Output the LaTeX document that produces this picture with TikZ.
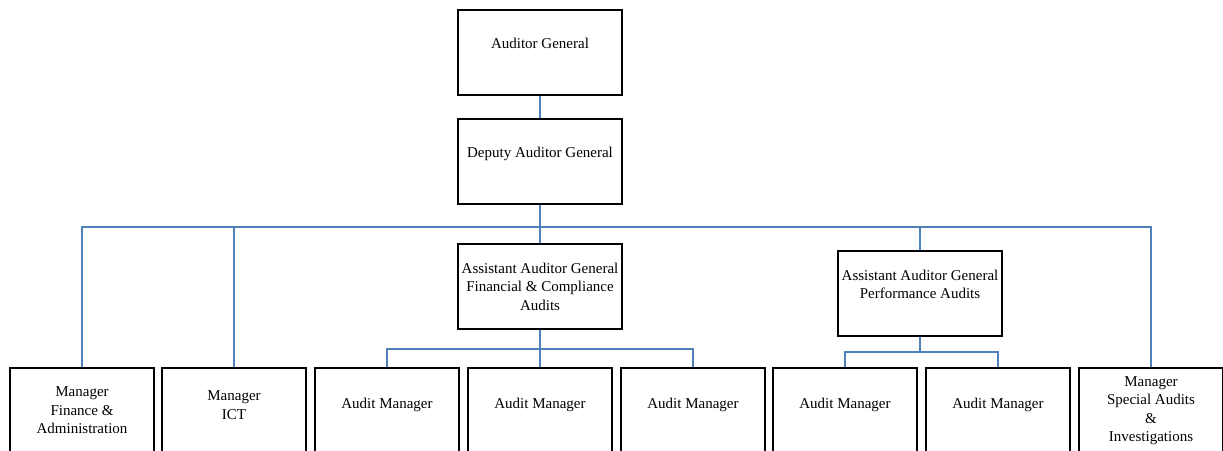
\documentclass[tikz,border=0pt]{standalone}
\usepackage{fontspec}
\setmainfont{Liberation Serif}
\usepackage{tikz}
\usetikzlibrary{positioning, calc}
\usepackage{xcolor}
\definecolor{OrgBlue}{HTML}{4F81BD}
\definecolor{OrgBlack}{HTML}{000000}
\definecolor{OrgWhite}{HTML}{ffffff}
\tikzset{
    % Node styles - plain boxes
    topbox/.style={
        rectangle,
        draw=OrgBlack,
        fill=OrgWhite,
        line width=1.6pt,
        minimum width=164pt,
        minimum height=85pt,
        align=center,
        font=\fontsize{15}{18.5}\selectfont
    },
    unitbox/.style={
        rectangle,
        draw=OrgBlack,
        fill=OrgWhite,
        line width=1.6pt,
        minimum width=144pt,
        minimum height=85pt,
        align=center,
        font=\fontsize{15}{18.5}\selectfont
    },
    % Connector style
    orgline/.style={
        draw=OrgBlue,
        line width=2pt
    }
}
\begin{document}
\begin{tikzpicture}[x=1pt, y=-1pt]
                \useasboundingbox (0,0) rectangle (1223,450);
                \clip (0,0) rectangle (1223,450);

                % Top of the chart
                \node[topbox] (ag) at (540,52.5) {Auditor General\\};
                \node[topbox] (dag) at (540,161.5) {Deputy Auditor General\\};

                % Assistant auditors general
                \node[topbox] (aagfc) at (540,286.5) {Assistant Auditor General\\Financial \& Compliance\\Audits};
                \node[topbox] (aagpa) at (920,293.5) {Assistant Auditor General\\Performance Audits\\};

                % Bottom row
                \node[unitbox] (mfa) at (82,410.5) {Manager\\Finance \&\\Administration};
                \node[unitbox] (mict) at (234,410.5) {Manager\\ICT\\[-8pt]};
                \node[unitbox] (am1) at (387,410.5) {Audit Manager\\[-4pt]};
                \node[unitbox] (am2) at (540,410.5) {Audit Manager\\[-4pt]};
                \node[unitbox] (am3) at (693,410.5) {Audit Manager\\[-4pt]};
                \node[unitbox] (am4) at (845,410.5) {Audit Manager\\[-4pt]};
                \node[unitbox] (am5) at (998,410.5) {Audit Manager\\[-4pt]};
                \node[unitbox] (msa) at (1151,410.5) {Manager\\Special Audits\\\&\\Investigations};

                % Bus rows
                \coordinate (bus) at (540,227);
                \coordinate (fcbus) at (540,349);
                \coordinate (pabus) at (920,352);

                % Connectors
                \draw[orgline] (ag.south) -- (dag.north);
                \draw[orgline] (dag.south) -- (bus);
                \draw[orgline] (mfa.north) |- (bus) -| (msa.north);
                \draw[orgline] (mict.north) -- (mict.north |- bus);
                \draw[orgline] (bus) -- (aagfc.north);
                \draw[orgline] (aagpa.north) -- (aagpa.north |- bus);

                \draw[orgline] (aagfc.south) -- (fcbus);
                \draw[orgline] (am1.north) |- (fcbus) -| (am3.north);
                \draw[orgline] (fcbus) -- (am2.north);

                \draw[orgline] (aagpa.south) -- (pabus);
                \draw[orgline] (am4.north) |- (pabus) -| (am5.north);
\end{tikzpicture}
\end{document}
